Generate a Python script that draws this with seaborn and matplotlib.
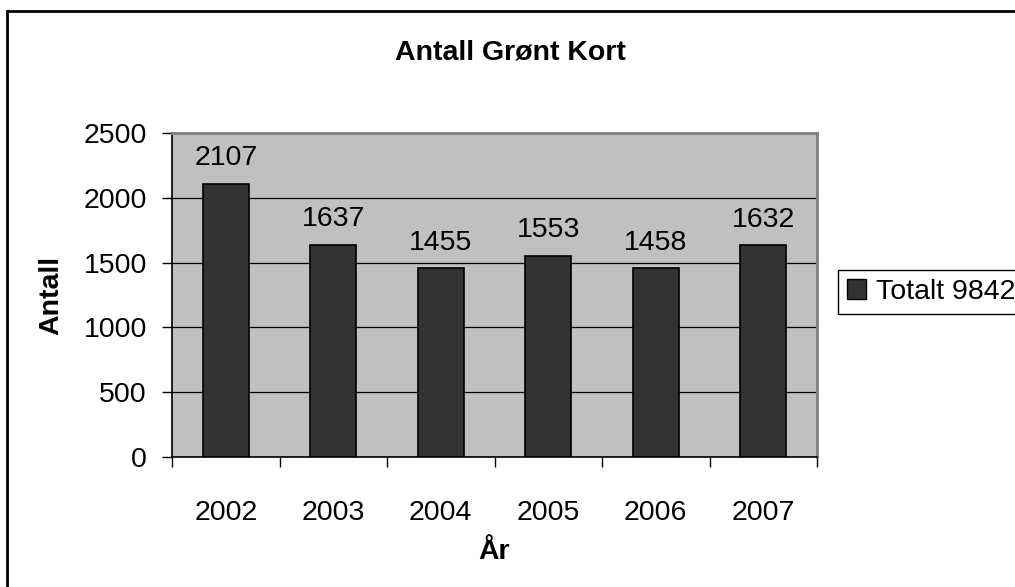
# coding: utf-8
# Antall Grønt Kort per år, stolpediagram i Excel-stil

import numpy as np
import pandas as pd
import seaborn as sns
import matplotlib.pyplot as plt
from matplotlib.patches import Rectangle, Patch

# DATA
years = ['2002', '2003', '2004', '2005', '2006', '2007']
counts = [2107, 1637, 1455, 1553, 1458, 1632]
legend_label = 'Totalt 9842'
y_ticks = [0, 500, 1000, 1500, 2000, 2500]

sns.set_style('white')
plt.rcParams['font.family'] = ['Liberation Sans', 'DejaVu Sans']
plt.rcParams['text.color'] = 'black'
plt.rcParams['xtick.labelcolor'] = 'black'
plt.rcParams['ytick.labelcolor'] = 'black'
plt.rcParams['axes.labelcolor'] = 'black'

FS = 20.5

df = pd.DataFrame({'year': years, 'count': counts})

fig = plt.figure(figsize=(10.15, 5.87), dpi=100)
ax = fig.add_axes([172 / 1015, 130 / 587, 645 / 1015, 324 / 587])
ax.set_facecolor('#c0c0c0')

sns.barplot(data=df, x='year', y='count', color='#333333', saturation=1,
            edgecolor='black', linewidth=1.2, width=0.43, ax=ax, zorder=3)

ax.bar_label(ax.containers[0], labels=[str(c) for c in counts],
             padding=9, fontsize=FS, color='black', zorder=4)

# grid
ax.set_ylim(0, 2500)
ax.set_yticks(y_ticks)
ax.set_yticklabels([str(t) for t in y_ticks])
ax.yaxis.grid(True, color='black', linewidth=0.9, zorder=1)
ax.set_axisbelow(True)

# x ticks at category boundaries, labels at centers
ax.set_xlim(-0.5, len(years) - 0.5)
ax.set_xticks(np.arange(-0.5, len(years), 1.0))
ax.set_xticklabels([])
ax.set_xticks(np.arange(len(years)), minor=True)
ax.set_xticklabels(years, minor=True)
ax.tick_params(axis='x', which='major', direction='out', length=7, width=1, color='black', bottom=True)
ax.tick_params(axis='x', which='minor', length=0, pad=31, labelsize=FS)
ax.tick_params(axis='y', direction='out', length=7, width=1, color='black', left=True, pad=11, labelsize=FS)

for s in ['left', 'bottom']:
    ax.spines[s].set_color('black')
    ax.spines[s].set_linewidth(1.2)
for s in ['top', 'right']:
    ax.spines[s].set_color('#808080')
    ax.spines[s].set_linewidth(2)

ax.set_xlabel('År', fontsize=FS, fontweight='bold', labelpad=9)
ax.set_ylabel('Antall', fontsize=FS, fontweight='bold', labelpad=14)

fig.text(510 / 1015, 1 - 52 / 587, 'Antall Grønt Kort', ha='center', va='center',
         fontsize=FS, fontweight='bold')

# legend
handle = Patch(facecolor='#333333', edgecolor='black', linewidth=1)
leg = fig.legend([handle], [legend_label], loc='center left',
                 bbox_to_anchor=(838 / 1015, 1 - 292 / 587), borderaxespad=0, fontsize=FS,
                 frameon=True, fancybox=False, edgecolor='black', framealpha=1,
                 handlelength=0.7, handleheight=0.7, handletextpad=0.35, borderpad=0.3)
leg.get_frame().set_linewidth(1)

# chart area frame
fig.patches.append(Rectangle((7 / 1015, -0.1), 1.1, 1.1 - 11 / 587, transform=fig.transFigure,
                             fill=False, edgecolor='black', linewidth=2, zorder=0))

fig.savefig('out.png', dpi=100, facecolor='white')
